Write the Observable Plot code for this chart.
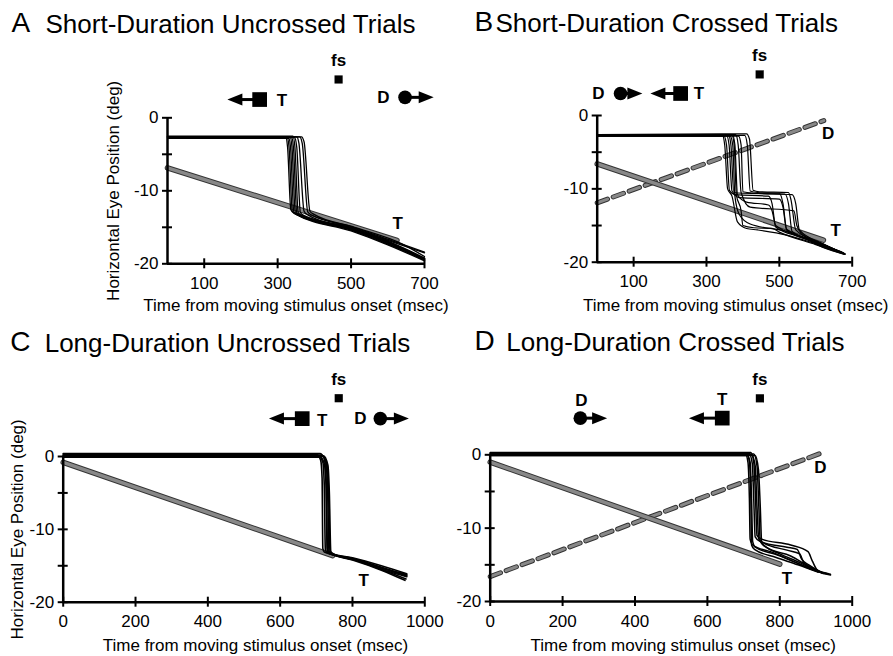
<!DOCTYPE html>
<html>
<head>
<meta charset="utf-8">
<script src="https://cdn.jsdelivr.net/npm/d3@7"></script>
<script src="https://cdn.jsdelivr.net/npm/@observablehq/plot@0.6"></script>
<style>
  body { margin: 0; background: #fff; }
  #fig { position: relative; width: 893px; height: 656px; overflow: hidden;
         font-family: "Liberation Sans", Arial, Helvetica, sans-serif; color: #000; }
  .panel { position: absolute; }
  .panel svg { overflow: visible; }
  .letter, .title { position: absolute; white-space: nowrap; line-height: 1; }
  .letter { font-size: 28px; }
  .title { font-size: 26px; }
</style>
</head>
<body>
<!-- checkered texture used for the target and distractor paths -->
<svg width="0" height="0" style="position:absolute">
  <defs>
    <pattern id="hatch" width="2" height="2" patternUnits="userSpaceOnUse">
      <rect width="2" height="2" fill="#fff"/>
      <rect width="1" height="1" fill="#111"/>
      <rect x="1" y="1" width="1" height="1" fill="#111"/>
    </pattern>
  </defs>
</svg>
<div id="fig"></div>
<script>
// ---- axis ticks ----
const yTicks = [0, -5, -10, -15, -20];
const yTickLabels = [0, -10, -20];
const xTicksShort = [100, 300, 500, 700];
const xTicksLong = [0, 200, 400, 600, 800, 1000];

// ---- stimulus paths (time ms, position deg) ----
const targetA = [[0, -6.85], [625, -16.8]];
const targetB = [[0, -6.6], [621, -17.0]];
const distractorB = [[0, -11.9], [622, -0.7]];
const targetC = [[0, -0.8], [745, -13.6]];
const targetD = [[0, -1.0], [800, -14.9]];
const distractorD = [[0, -16.6], [921, 0.35]];

// ---- eye position traces, one array per trial ----
const eyeA = [
  [[0, -2.6], [322, -2.6], [327, -4], [336, -12.6], [345, -13.1], [500, -15.3], [600, -17.2], [700, -19.5]],
  [[0, -2.7], [326, -2.7], [331, -4], [340, -12.8], [350, -13.2], [500, -15.5], [600, -17.4], [700, -19.6]],
  [[0, -2.8], [330, -2.8], [335, -4], [344, -12.9], [354, -13.3], [500, -15.2], [600, -17.0], [700, -19.3]],
  [[0, -2.6], [334, -2.6], [339, -4], [348, -12.9], [358, -13.3], [500, -15.4], [600, -17.3], [690, -19.2]],
  [[0, -2.7], [338, -2.7], [343, -4], [352, -13.0], [362, -13.3], [500, -15.1], [600, -16.9], [700, -19.2]],
  [[0, -2.5], [342, -2.5], [347, -4], [356, -13.0], [366, -13.4], [500, -15.3], [600, -17.1], [700, -19.4]],
  [[0, -2.7], [346, -2.7], [352, -4], [362, -13.0], [372, -13.4], [500, -15.0], [600, -16.8], [700, -18.5]],
  [[0, -2.6], [352, -2.6], [358, -3.5], [372, -12.8], [382, -13.3], [500, -15.2], [600, -17.0], [700, -19.3]],
  [[0, -2.6], [360, -2.6], [367, -3.5], [382, -12.9], [392, -13.3], [500, -14.9], [620, -17.0], [700, -18.4]],
  [[0, -2.6], [365, -2.6], [372, -3.3], [388, -12.8], [398, -13.2], [510, -15.0], [640, -17.3], [700, -19.0]]
];
const eyeB = [
  [[0, -2.6], [343, -2.6], [350, -4], [358, -10], [370, -11], [385, -14.5], [410, -15.4], [440, -15.6], [520, -16.3], [600, -17.5], [675, -18.8]],
  [[0, -2.8], [348, -2.8], [355, -4], [363, -10.2], [380, -10.8], [470, -11.0], [480, -12], [490, -15.2], [560, -16.6], [680, -18.9]],
  [[0, -2.7], [355, -2.7], [362, -4], [370, -10.3], [390, -11.2], [500, -11.4], [510, -12.5], [520, -15.6], [600, -17.3], [680, -18.9]],
  [[0, -2.6], [360, -2.6], [367, -4], [375, -10.5], [400, -10.6], [515, -10.7], [525, -12], [535, -15.8], [600, -17.2], [675, -18.7]],
  [[0, -2.8], [365, -2.8], [372, -4], [378, -11], [390, -13.5], [420, -14.8], [520, -15.8], [600, -17.4], [678, -18.8]],
  [[0, -2.7], [372, -2.7], [378, -4], [385, -10.8], [410, -11.8], [470, -12.2], [480, -13], [490, -15], [560, -16.5], [670, -18.6]],
  [[0, -2.6], [380, -2.6], [387, -4], [395, -10.5], [420, -12.5], [540, -13], [548, -15], [560, -16], [680, -18.9]],
  [[0, -2.8], [388, -2.8], [395, -4], [400, -10.4], [430, -10.6], [535, -10.8], [545, -12], [555, -15.6], [620, -17.5], [680, -18.9]],
  [[0, -2.7], [405, -2.7], [412, -4], [420, -10.3], [440, -10.5], [500, -10.6], [510, -12], [520, -15.5], [600, -17.1], [677, -18.8]],
  [[0, -2.6], [410, -2.5], [418, -3.2], [428, -10.2], [445, -10.4], [525, -10.5], [532, -11.5], [545, -15.6], [610, -17.3], [680, -18.9]],
  [[0, -2.7], [370, -2.7], [376, -4], [382, -10.8], [395, -13], [400, -15.0], [430, -15.3], [480, -15.4], [500, -15.9], [600, -17.6], [676, -18.9]]
];
const eyeC = [
  [[0, 0.3], [700, 0.3], [712, -0.5], [716, -3], [718, -12.6], [722, -13.1], [800, -13.9], [880, -15.0], [950, -16.1]],
  [[0, 0.1], [706, 0.1], [718, -0.8], [722, -4], [725, -12.8], [730, -13.2], [800, -14.0], [880, -15.2], [950, -16.3]],
  [[0, -0.1], [712, -0.1], [722, -1], [727, -4], [730, -12.9], [735, -13.3], [800, -14.1], [880, -15.5], [948, -16.8]],
  [[0, 0.2], [715, 0.2], [726, -0.8], [731, -4], [735, -13.0], [740, -13.3], [800, -14.0], [880, -15.3], [950, -16.4]],
  [[0, 0.0], [718, 0.0], [729, -1], [734, -5], [738, -13.1], [743, -13.4], [800, -14.2], [880, -15.6], [945, -17.0]],
  [[0, 0.4], [710, 0.4], [722, -0.3], [727, -3], [731, -12.7], [736, -13.2], [820, -14.3], [900, -15.6], [950, -16.2]],
  [[0, 0.1], [720, 0.1], [732, -1.2], [736, -5], [740, -13.0], [745, -13.3], [820, -14.4], [900, -15.8], [950, -16.5]]
];
const eyeD = [
  [[0, 0.1], [705, 0.1], [712, -1], [716, -6], [718, -11.5], [725, -12.3], [780, -13.3], [840, -14.6], [900, -15.8], [935, -16.2]],
  [[0, -0.1], [710, -0.1], [718, -1], [722, -6], [725, -11.8], [732, -12.6], [790, -13.6], [850, -14.8], [910, -16.0], [940, -16.3]],
  [[0, 0.2], [715, 0.2], [724, -1.2], [728, -6], [732, -11.2], [745, -11.8], [820, -12.6], [848, -12.9], [860, -14.2], [880, -15.0], [920, -16.1]],
  [[0, 0.3], [720, 0.3], [728, -1], [733, -6], [737, -11.0], [750, -11.5], [830, -12.3], [878, -13.2], [890, -14.5], [905, -15.8], [930, -16.2]],
  [[0, 0.0], [722, 0.0], [732, -1.5], [737, -7], [742, -11.5], [755, -12.0], [820, -13.0], [855, -13.5], [865, -14.6], [880, -15.2], [925, -16.2]],
  [[0, 0.1], [728, 0.1], [737, -1.5], [742, -7], [746, -11.8], [760, -12.5], [800, -13.5], [860, -14.8], [910, -16.0], [940, -16.4]],
  [[0, -0.1], [732, -0.1], [741, -2], [746, -7], [750, -12.0], [762, -12.6], [830, -13.8], [880, -15.2], [920, -16.2]],
  [[0, 0.2], [708, 0.2], [716, -1], [720, -6], [722, -12.3], [730, -12.9], [790, -14.0], [850, -15.0], [905, -16.0]]
];

// ---- stimulus icons drawn above each plot (time ms, position deg) ----
const targetIcons = [
  {panel: "A", x: 251, tip: 163, y: 2.5},
  {panel: "B", x: 229, tip: 146, y: 3.0},
  {panel: "C", x: 661, tip: 569, y: 5.2},
  {panel: "D", x: 641, tip: 549, y: 5.0}
];
const distractorIcons = [
  {panel: "A", x: 647, tip: 725, y: 2.8},
  {panel: "B", x: 64, tip: 124, y: 3.0},
  {panel: "C", x: 877, tip: 956, y: 5.2},
  {panel: "D", x: 249, tip: 323, y: 5.0}
];
const fixationIcons = [
  {panel: "A", x: 466, y: 5.25},
  {panel: "B", x: 446, y: 5.6},
  {panel: "C", x: 762, y: 8.0},
  {panel: "D", x: 745, y: 7.7}
];
const markerLabels = [
  {panel: "A", text: "fs", x: 466, y: 7.85},
  {panel: "A", text: "T", x: 312, y: 2.4},
  {panel: "A", text: "D", x: 588, y: 2.8},
  {panel: "A", text: "T", x: 627, y: -14.5},
  {panel: "B", text: "fs", x: 446, y: 8.2},
  {panel: "B", text: "D", x: 3, y: 3.0},
  {panel: "B", text: "T", x: 279, y: 3.0},
  {panel: "B", text: "D", x: 634, y: -2.4},
  {panel: "B", text: "T", x: 655, y: -15.7},
  {panel: "C", text: "fs", x: 762, y: 10.5},
  {panel: "C", text: "T", x: 716, y: 4.9},
  {panel: "C", text: "D", x: 822, y: 5.2},
  {panel: "C", text: "T", x: 831, y: -17.0},
  {panel: "D", text: "fs", x: 745, y: 10.3},
  {panel: "D", text: "D", x: 252, y: 7.4},
  {panel: "D", text: "T", x: 641, y: 7.6},
  {panel: "D", text: "D", x: 912, y: -1.7},
  {panel: "D", text: "T", x: 820, y: -16.9}
];

const panelLetters = ["A", "B", "C", "D"];
const panelTitles = [
  "Short-Duration Uncrossed Trials",
  "Short-Duration Crossed Trials",
  "Long-Duration Uncrossed Trials",
  "Long-Duration Crossed Trials"
];
const xLabel = "Time from moving stimulus onset (msec)";
const yLabel = "Horizontal Eye Position (deg)";

// ---- helpers ----
const toRows = (path) => path.map(([t, pos]) => ({t, pos}));
const toTrials = (trials) => trials.flatMap((path, trial) => path.map(([t, pos]) => ({trial, t, pos})));

// filled arrowheads with the tip at the symbol origin
const arrowRight = {draw(ctx, size) {
  const k = Math.sqrt(size / Math.PI) / 6;
  ctx.moveTo(0, 0); ctx.lineTo(-15 * k, -6 * k); ctx.lineTo(-15 * k, 6 * k); ctx.closePath();
}};
const arrowLeft = {draw(ctx, size) {
  const k = Math.sqrt(size / Math.PI) / 6;
  ctx.moveTo(0, 0); ctx.lineTo(15 * k, -6 * k); ctx.lineTo(15 * k, 6 * k); ctx.closePath();
}};

const fig = document.getElementById("fig");

function addTitle(letter, title, box) {
  const l = document.createElement("div");
  l.className = "letter"; l.textContent = letter;
  l.style.left = box.lx + "px"; l.style.top = box.ly + "px";
  const t = document.createElement("div");
  t.className = "title"; t.textContent = title;
  t.style.left = box.tx + "px"; t.style.top = box.ty + "px";
  fig.append(l, t);
}

function drawPanel(p) {
  const [xMin, xMax] = p.xDomain;
  const byPanel = (arr) => arr.filter((d) => d.panel === p.id);
  const tIcons = byPanel(targetIcons), dIcons = byPanel(distractorIcons);
  const marks = [];

  // moving stimulus paths (textured bands)
  if (p.distractor) {
    const rows = toRows(p.distractor);
    marks.push(Plot.line(rows, {x: "t", y: "pos", stroke: "#333", strokeWidth: 5, strokeDasharray: "11 6"}));
    marks.push(Plot.line(rows, {x: "t", y: "pos", stroke: "url(#hatch)", strokeWidth: 3, strokeDasharray: "11 6"}));
  }
  const tRows = toRows(p.target);
  marks.push(Plot.line(tRows, {x: "t", y: "pos", stroke: "#333", strokeWidth: 5.5}));
  marks.push(Plot.line(tRows, {x: "t", y: "pos", stroke: "url(#hatch)", strokeWidth: 3.5}));

  // eye traces
  marks.push(Plot.line(toTrials(p.eye), {x: "t", y: "pos", z: "trial", stroke: "#000",
    strokeWidth: p.eyeWidth, curve: "monotone-x"}));

  // axes: heavy lines with ticks crossing them
  marks.push(
    Plot.ruleY([-20], {x1: xMin, x2: xMax, strokeWidth: 2.5}),
    Plot.ruleX([xMin], {y1: -20, y2: 0, strokeWidth: 2.5}),
    Plot.ruleX(p.xTicks, {x: (d) => d, y1: -20, y2: -20, insetTop: -5, insetBottom: -5, strokeWidth: 2}),
    Plot.ruleY(yTicks, {y: (d) => d, x1: xMin, x2: xMin, insetLeft: -5, insetRight: -5, strokeWidth: 2}),
    Plot.axisX({ticks: p.xTicks, tickSize: 0, tickPadding: 13, label: null, tickFormat: (d) => String(d)}),
    Plot.axisY({ticks: yTickLabels, tickSize: 0, tickPadding: 9, label: null, tickFormat: (d) => String(d)}),
    Plot.text([xLabel], {text: (d) => d, frameAnchor: "bottom", lineAnchor: "middle", textAnchor: "middle",
      dy: p.xLabelDy, dx: p.xLabelDx})
  );
  if (p.yLabelDx != null) {
    marks.push(Plot.text([yLabel], {text: (d) => d, frameAnchor: "left", textAnchor: "middle",
      lineAnchor: "middle", rotate: -90, dx: p.yLabelDx}));
  }

  // stimulus icons above the plot
  marks.push(
    Plot.ruleY(tIcons, {y: "y", x1: "tip", x2: "x", insetLeft: 10, strokeWidth: 3}),
    Plot.dot(tIcons, {x: "tip", y: "y", symbol: arrowLeft, r: 6, fill: "#000", stroke: "none"}),
    Plot.dot(tIcons, {x: "x", y: "y", symbol: "square", r: 8.3, fill: "#000", stroke: "none"}),
    Plot.ruleY(dIcons, {y: "y", x1: "x", x2: "tip", insetRight: 10, strokeWidth: 3}),
    Plot.dot(dIcons, {x: "tip", y: "y", symbol: arrowRight, r: 6, fill: "#000", stroke: "none"}),
    Plot.dot(dIcons, {x: "x", y: "y", r: 6.8, fill: "#000", stroke: "none"}),
    Plot.dot(byPanel(fixationIcons), {x: "x", y: "y", symbol: "square", r: 4.6, fill: "#000", stroke: "none"}),
    Plot.text(byPanel(markerLabels), {x: "x", y: "y", text: "text", fontWeight: "bold", fontSize: 17})
  );

  const chart = Plot.plot({
    width: p.width, height: p.height,
    marginLeft: p.m[0], marginTop: p.m[1], marginRight: p.m[2], marginBottom: p.m[3],
    x: {domain: p.xDomain},
    y: {domain: [-20, 0]},
    style: {fontFamily: '"Liberation Sans", Arial, Helvetica, sans-serif', fontSize: "17px",
            background: "transparent", color: "#000", overflow: "visible"},
    marks
  });
  const wrap = document.createElement("div");
  wrap.className = "panel";
  wrap.style.left = p.left + "px"; wrap.style.top = p.top + "px";
  wrap.appendChild(chart);
  fig.appendChild(wrap);
}

const panels = [
  {id: "A", left: 0, top: 0, width: 446, height: 328, m: [167, 117.3, 22, 64.7],
   xDomain: [0, 700], xTicks: xTicksShort, eye: eyeA, target: targetA, eyeWidth: 1.3,
   xLabelDx: 0, xLabelDy: 42, yLabelDx: -54},
  {id: "B", left: 446, top: 0, width: 447, height: 328, m: [150.7, 115, 41.3, 66.3],
   xDomain: [0, 700], xTicks: xTicksShort, eye: eyeB, target: targetB, distractor: distractorB, eyeWidth: 1.2,
   xLabelDx: 11, xLabelDy: 43},
  {id: "C", left: 0, top: 328, width: 446, height: 328, m: [62.7, 128, 21.7, 54.3],
   xDomain: [0, 1000], xTicks: xTicksLong, eye: eyeC, target: targetC, eyeWidth: 1.6,
   xLabelDx: 11.5, xLabelDy: 43, yLabelDx: -46},
  {id: "D", left: 446, top: 328, width: 447, height: 328, m: [43.7, 126.3, 41.3, 55],
   xDomain: [0, 1000], xTicks: xTicksLong, eye: eyeD, target: targetD, distractor: distractorD, eyeWidth: 1.5,
   xLabelDx: 12, xLabelDy: 44}
];

panels.forEach(drawPanel);

const titleBoxes = [
  {lx: 11.5, ly: 9.3, tx: 45.5, ty: 11},
  {lx: 474.5, ly: 8, tx: 495.5, ty: 9.7},
  {lx: 10.3, ly: 328, tx: 44.7, ty: 329.7},
  {lx: 474.5, ly: 327, tx: 506.3, ty: 328.7}
];
panelLetters.forEach((letter, i) => addTitle(letter, panelTitles[i], titleBoxes[i]));
</script>
</body>
</html>
